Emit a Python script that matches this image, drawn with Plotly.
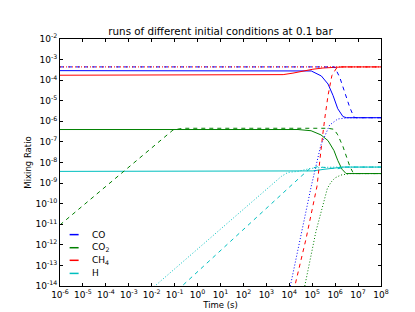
import plotly.graph_objects as go

# ---------------- data ----------------
species = ["CO", "CO<sub>2</sub>", "CH<sub>4</sub>", "H"]
colors = ["#0000ff", "#008000", "#ff0000", "#00bfbf"]

# run 1 (solid)
t_co_1 = [1e-6, 2.4e4, 9.1e4, 2.5e5, 4.9e5, 8.1e5, 1.3e6, 2.2e6, 3.1e6, 1e8]
y_co_1 = [2.9e-4, 2.9e-4, 2.8e-4, 1.6e-4, 6.5e-5, 1.8e-5, 4.1e-6, 1.7e-6, 1.5e-6, 1.5e-6]
t_co2_1 = [1e-6, 2.4e4, 8.9e4, 2.4e5, 4.9e5, 8.9e5, 1.3e6, 2.0e6, 3.0e6, 1e8]
y_co2_1 = [4.0e-7, 4.0e-7, 3.5e-7, 2.2e-7, 1.15e-7, 3.8e-8, 1.26e-8, 4.7e-9, 2.9e-9, 2.9e-9]
t_ch4_1 = [1e-6, 1.2e3, 5.4e3, 1.45e4, 4.0e4, 1.07e5, 2.95e5, 8.1e5, 2.2e6, 1e8]
y_ch4_1 = [1.74e-4, 1.74e-4, 1.86e-4, 2.2e-4, 2.75e-4, 3.4e-4, 3.9e-4, 4.27e-4, 4.4e-4, 4.4e-4]
t_h_1 = [1e-6, 4.0e4, 1.07e5, 2.95e5, 8.1e5, 2.2e6, 1e8]
y_h_1 = [3.7e-9, 3.7e-9, 3.9e-9, 4.6e-9, 5.4e-9, 6.0e-9, 6.0e-9]

# run 2 (dashed)
t_co_2 = [1e-6, 9.5e5, 1.6e6, 2.6e6, 4.3e6, 6.6e6, 8.1e6, 1e8]
y_co_2 = [4.4e-4, 4.4e-4, 1.34e-4, 2.6e-5, 4.9e-6, 1.6e-6, 1.5e-6, 1.5e-6]
t_co2_2 = [1e-6, 0.085, 0.23, 4.9e5, 8.9e5, 1.3e6, 2.2e6, 3.1e6, 4.3e6, 5.8e6, 8.1e6, 1e8]
y_co2_2 = [9.3e-12, 3.8e-7, 4.6e-7, 4.6e-7, 4.1e-7, 2.2e-7, 5.9e-8, 1.95e-8, 6.8e-9, 3.5e-9, 2.9e-9, 2.9e-9]
t_ch4_2 = [1.07e4, 1.74e4, 5.4e4, 1.62e5, 2.2e5, 2.8e5, 3.6e5, 4.9e5, 7.2e5, 1.1e6, 1.8e6, 1e8]
y_ch4_2 = [1e-15, 1e-14, 2.0e-12, 7.1e-10, 1.95e-8, 1.78e-7, 1.62e-6, 1.82e-5, 1.66e-4, 3.6e-4, 4.4e-4, 4.4e-4]
t_h_2 = [0.0224, 0.21, 8.7e3, 3.3e4, 7.8e4, 1.78e5, 6.0e5, 1.3e6, 3.0e6, 1e8]
y_h_2 = [1e-15, 1e-14, 5.9e-10, 2.14e-9, 5.0e-9, 6.3e-9, 5.3e-9, 5.0e-9, 6.0e-9, 6.0e-9]

# run 3 (dotted)
t_co_3 = [7.2e3, 1.1e4, 9.1e4, 2.4e5, 5.75e5, 1.3e6, 3.6e6, 1e8]
y_co_3 = [1e-15, 1e-14, 7.1e-10, 7.2e-8, 6.6e-7, 1.3e-6, 1.48e-6, 1.5e-6]
t_co2_3 = [3.1e4, 4.7e4, 1.45e5, 4.6e5, 6.6e5, 9.8e5, 1.78e6, 4.5e6, 1e8]
y_co2_3 = [1e-15, 1e-14, 4.4e-12, 5.6e-10, 1.1e-9, 1.78e-9, 2.45e-9, 2.9e-9, 2.9e-9]
t_ch4_3 = [1e-6, 1e8]
y_ch4_3 = [4.4e-4, 4.4e-4]
t_h_3 = [1.3e-3, 0.0138, 4.5e3, 8.7e3, 2.4e4, 7.9e4, 2.95e5, 1.3e6, 1e8]
y_h_3 = [1e-15, 1e-14, 2.1e-9, 3.3e-9, 3.7e-9, 5.1e-9, 5.8e-9, 6.0e-9, 6.0e-9]

x_tick_vals = [10.0 ** e for e in range(-6, 9)]
x_tick_text = ["10<sup>%d</sup>" % e for e in range(-6, 9)]
y_tick_vals = [10.0 ** e for e in range(-14, -1)]
y_tick_text = ["10<sup>%d</sup>" % e for e in range(-14, -1)]

title_text = "runs of different initial conditions at 0.1 bar"
x_title = "Time (s)"
y_title = "Mixing Ratio"

# ---------------- figure ----------------
FONT = "DejaVu Sans"
fig = go.Figure()

runs = [
    ("solid", [(t_co_1, y_co_1), (t_co2_1, y_co2_1), (t_ch4_1, y_ch4_1), (t_h_1, y_h_1)]),
    ("4px,4px", [(t_co_2, y_co_2), (t_co2_2, y_co2_2), (t_ch4_2, y_ch4_2), (t_h_2, y_h_2)]),
    ("1px,2px", [(t_co_3, y_co_3), (t_co2_3, y_co2_3), (t_ch4_3, y_ch4_3), (t_h_3, y_h_3)]),
]
for dash, series in runs:
    for (t, y), name, col in zip(series, species, colors):
        fig.add_trace(go.Scatter(x=t, y=y, mode="lines", name=name, showlegend=False,
                                 line=dict(color=col, width=1, dash=dash)))

# manual legend (no frame), lower-left inside the axes
leg_y = [0.208, 0.155, 0.104, 0.051]
shapes = []
annotations = []
for name, col, yy in zip(species, colors, leg_y):
    shapes.append(dict(type="line", xref="paper", yref="paper", x0=0.030, x1=0.058,
                       y0=yy, y1=yy, line=dict(color=col, width=1.5)))
    annotations.append(dict(xref="paper", yref="paper", x=0.095, y=yy, text=name,
                            showarrow=False, xanchor="left", yanchor="middle",
                            font=dict(family=FONT, size=9, color="black")))

axis_common = dict(type="log", showgrid=False, zeroline=False, showline=True,
                   linecolor="black", linewidth=1, mirror="ticks", ticks="inside",
                   ticklen=3, tickcolor="black", tickfont=dict(family=FONT, size=9, color="black"))

fig.update_layout(
    width=415, height=312,
    margin=dict(l=52, r=42, t=31, b=31),
    paper_bgcolor="white", plot_bgcolor="white",
    title=dict(text=title_text, x=(52 + 160.5) / 415, xanchor="center", y=1 - 23 / 312,
               yanchor="middle", yref="container", font=dict(family=FONT, size=10.3, color="black")),
    xaxis=dict(range=[-6, 8], tickvals=x_tick_vals, ticktext=x_tick_text,
               title=dict(text=x_title, standoff=2, font=dict(family=FONT, size=8.5, color="black")),
               **axis_common),
    yaxis=dict(range=[-14, -2], tickvals=y_tick_vals, ticktext=y_tick_text,
               title=dict(text=y_title, standoff=2, font=dict(family=FONT, size=8.5, color="black")),
               **axis_common),
    shapes=shapes, annotations=annotations,
    showlegend=False,
)

fig.write_html("out.html")
